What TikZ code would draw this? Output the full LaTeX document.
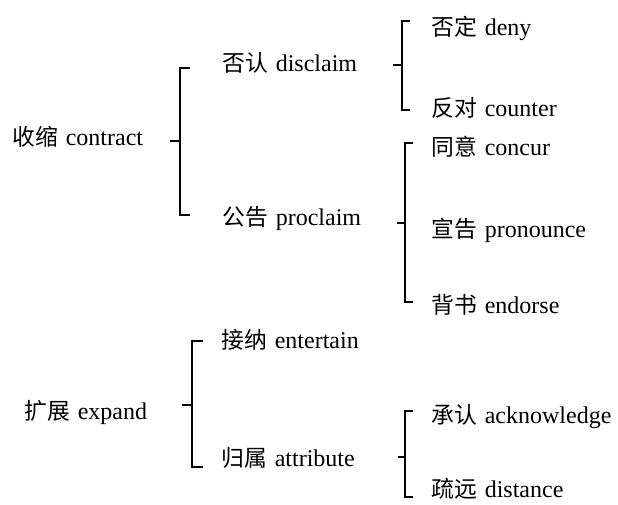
\documentclass[tikz,border=0pt]{standalone}
\usepackage{fontspec}
\setmainfont{Liberation Serif}
\newfontfamily\cjk{Noto Sans CJK SC}[Scale=0.95]
\newcommand{\zhen}[2]{{\cjk #1}\hspace{8pt}#2}
\begin{document}
\begin{tikzpicture}[x=1pt,y=-1pt,
  lab/.style={anchor=west,inner sep=0pt,font=\fontsize{24}{28}\selectfont},
  brk/.style={line width=1.3pt}]
\useasboundingbox (0,0) rectangle (618,504);
% level 0
\node[lab] (contract) at (12,137) {\zhen{收缩}{contract}};
\node[lab] (expand) at (24,412) {\zhen{扩展}{expand}};
% level 1
\node[lab] (disclaim) at (222,63) {\zhen{否认}{disclaim}};
\node[lab] (proclaim) at (222,218) {\zhen{公告}{proclaim}};
\node[lab] (entertain) at (221,340) {\zhen{接纳}{entertain}};
\node[lab] (attribute) at (221,458) {\zhen{归属}{attribute}};
% level 2
\node[lab] (deny) at (431,28) {\zhen{否定}{deny}};
\node[lab] (counter) at (431,108) {\zhen{反对}{counter}};
\node[lab] (concur) at (431,147) {\zhen{同意}{concur}};
\node[lab] (pronounce) at (431,230) {\zhen{宣告}{pronounce}};
\node[lab] (endorse) at (431,305) {\zhen{背书}{endorse}};
\node[lab] (acknowledge) at (431,417) {\zhen{承认}{acknowledge}};
\node[lab] (distance) at (431,489) {\zhen{疏远}{distance}};
% brackets
\draw[brk] (190,68) -- (180,68) -- (180,215) -- (190,215);
\draw[brk] (170,141) -- (180,141);
\draw[brk] (410,21) -- (402,21) -- (402,110) -- (410,110);
\draw[brk] (393,65) -- (402,65);
\draw[brk] (413,143) -- (405,143) -- (405,302) -- (413,302);
\draw[brk] (397,223) -- (405,223);
\draw[brk] (203,341) -- (192,341) -- (192,467) -- (203,467);
\draw[brk] (182,405) -- (192,405);
\draw[brk] (413,411) -- (405,411) -- (405,497) -- (413,497);
\draw[brk] (398,457) -- (405,457);
\end{tikzpicture}
\end{document}
